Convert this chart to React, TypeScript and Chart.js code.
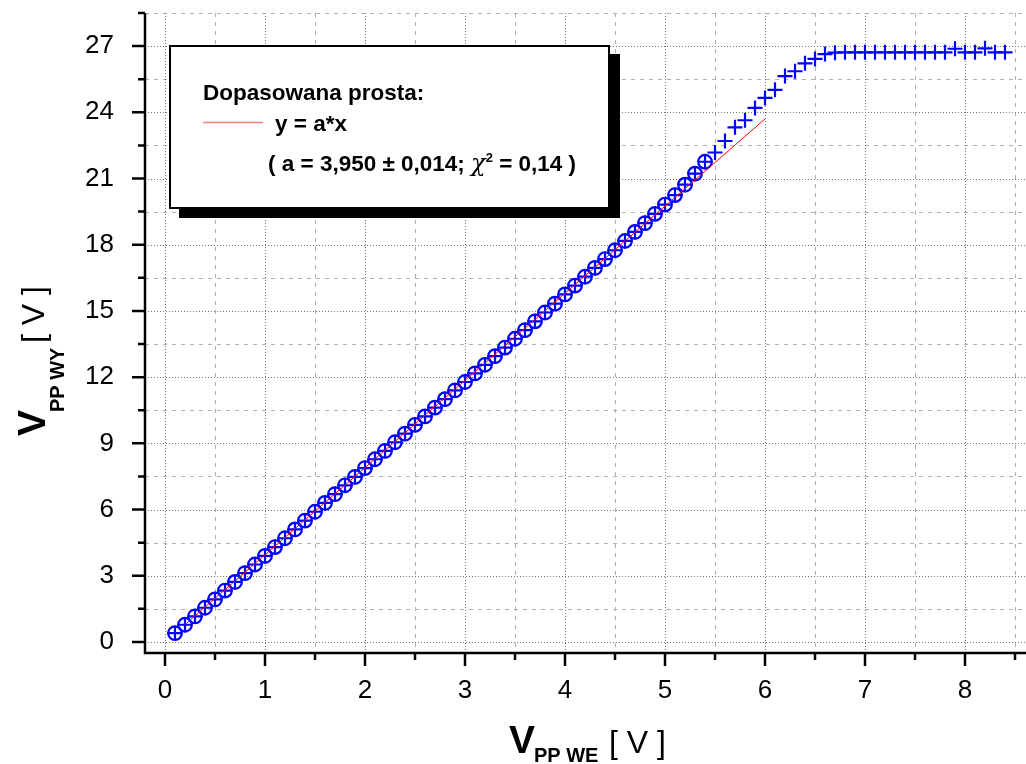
import React, { useEffect, useRef } from "react";
import { Chart, registerables } from "chart.js";

Chart.register(...registerables);

// ---- data ----
const X_VALUES = [
  0.1, 0.2, 0.3, 0.4, 0.5, 0.6, 0.7, 0.8, 0.9, 1.0,
  1.1, 1.2, 1.3, 1.4, 1.5, 1.6, 1.7, 1.8, 1.9, 2.0,
  2.1, 2.2, 2.3, 2.4, 2.5, 2.6, 2.7, 2.8, 2.9, 3.0,
  3.1, 3.2, 3.3, 3.4, 3.5, 3.6, 3.7, 3.8, 3.9, 4.0,
  4.1, 4.2, 4.3, 4.4, 4.5, 4.6, 4.7, 4.8, 4.9, 5.0,
  5.1, 5.2, 5.3, 5.4, 5.5, 5.6, 5.7, 5.8, 5.9, 6.0,
  6.1, 6.2, 6.3, 6.4, 6.5, 6.6, 6.7, 6.8, 6.9, 7.0,
  7.1, 7.2, 7.3, 7.4, 7.5, 7.6, 7.7, 7.8, 7.9, 8.0,
  8.1, 8.2, 8.3, 8.4,
];
const Y_VALUES = [
  0.40, 0.78, 1.16, 1.55, 1.93, 2.33, 2.72, 3.12, 3.51, 3.90,
  4.30, 4.70, 5.10, 5.50, 5.90, 6.30, 6.70, 7.10, 7.48, 7.88,
  8.28, 8.66, 9.05, 9.44, 9.84, 10.22, 10.62, 11.00, 11.40, 11.78,
  12.17, 12.56, 12.95, 13.34, 13.74, 14.13, 14.53, 14.93, 15.33, 15.75,
  16.15, 16.55, 16.95, 17.35, 17.75, 18.17, 18.58, 18.98, 19.40, 19.82,
  20.25, 20.72, 21.22, 21.76, 22.18, 22.70, 23.32, 23.64, 24.20, 24.65,
  25.02, 25.64, 25.86, 26.22, 26.42, 26.64, 26.70, 26.72, 26.72, 26.72,
  26.72, 26.72, 26.72, 26.72, 26.72, 26.72, 26.72, 26.72, 26.88, 26.72,
  26.72, 26.90, 26.72, 26.72,
];
// number of points used for the fit (drawn with circles)
const N_FITTED = 54;

// fitted line y = a*x, a = 3.950
const FIT_X = [0.2, 6.0];
const FIT_Y = [0.79, 23.7];

const X_TICKS = [0, 1, 2, 3, 4, 5, 6, 7, 8];
const X_MINOR = [0.5, 1.5, 2.5, 3.5, 4.5, 5.5, 6.5, 7.5, 8.5];
const Y_TICKS = [0, 3, 6, 9, 12, 15, 18, 21, 24, 27];
const Y_MINOR = [1.5, 4.5, 7.5, 10.5, 13.5, 16.5, 19.5, 22.5, 25.5, 28.5];

const LEGEND_TITLE = "Dopasowana prosta:";
const LEGEND_LABEL = "y = a*x";
const LEGEND_PARAMS_A = "( a = 3,950 \u00B1 0,014; ";
const LEGEND_CHI = "\u03C7";
const LEGEND_SUP = "2";
const LEGEND_PARAMS_B = " = 0,14 )";

const SANS = '"Liberation Sans", Arial, Helvetica, sans-serif';

const decorPlugin = {
  id: "decor",
  beforeDatasetsDraw(chart: any) {
    const { ctx, chartArea: a, scales } = chart;
    const x = scales.x;
    const y = scales.y;
    ctx.save();
    ctx.lineWidth = 1;
    // minor grid: dashed
    ctx.strokeStyle = "#b0b0b0";
    ctx.setLineDash([4, 5]);
    for (const v of X_MINOR) {
      const px = Math.round(x.getPixelForValue(v)) + 0.5;
      ctx.beginPath();
      ctx.moveTo(px, a.top);
      ctx.lineTo(px, a.bottom);
      ctx.stroke();
    }
    for (const v of Y_MINOR) {
      const py = Math.round(y.getPixelForValue(v)) + 0.5;
      ctx.beginPath();
      ctx.moveTo(a.left, py);
      ctx.lineTo(a.right, py);
      ctx.stroke();
    }
    // major grid: dotted
    ctx.strokeStyle = "#787878";
    ctx.setLineDash([1, 2]);
    for (const v of X_TICKS) {
      const px = Math.round(x.getPixelForValue(v)) + 0.5;
      ctx.beginPath();
      ctx.moveTo(px, a.top);
      ctx.lineTo(px, a.bottom);
      ctx.stroke();
    }
    for (const v of Y_TICKS) {
      const py = Math.round(y.getPixelForValue(v)) + 0.5;
      ctx.beginPath();
      ctx.moveTo(a.left, py);
      ctx.lineTo(a.right, py);
      ctx.stroke();
    }
    ctx.restore();
  },
  afterDatasetsDraw(chart: any) {
    const { ctx, chartArea: a, scales } = chart;
    const x = scales.x;
    const y = scales.y;
    ctx.save();
    ctx.setLineDash([]);
    ctx.strokeStyle = "#000";
    ctx.lineWidth = 2.5;
    // axis lines
    ctx.beginPath();
    ctx.moveTo(a.left, a.top);
    ctx.lineTo(a.left, a.bottom + 1.2);
    ctx.moveTo(a.left - 1.2, a.bottom);
    ctx.lineTo(a.right, a.bottom);
    ctx.stroke();
    // ticks
    ctx.beginPath();
    for (const v of Y_TICKS) {
      const py = y.getPixelForValue(v);
      ctx.moveTo(a.left - 13, py);
      ctx.lineTo(a.left, py);
    }
    for (const v of Y_MINOR) {
      const py = y.getPixelForValue(v);
      ctx.moveTo(a.left - 7, py);
      ctx.lineTo(a.left, py);
    }
    for (const v of X_TICKS) {
      const px = x.getPixelForValue(v);
      ctx.moveTo(px, a.bottom);
      ctx.lineTo(px, a.bottom + 13);
    }
    for (const v of X_MINOR) {
      const px = x.getPixelForValue(v);
      ctx.moveTo(px, a.bottom);
      ctx.lineTo(px, a.bottom + 7);
    }
    ctx.stroke();

    // legend box with shadow
    ctx.fillStyle = "#000";
    ctx.fillRect(179, 54, 441, 164);
    ctx.fillStyle = "#fff";
    ctx.fillRect(169, 45, 440, 163);
    ctx.lineWidth = 2;
    ctx.strokeStyle = "#000";
    ctx.strokeRect(170, 46, 439, 162);

    ctx.fillStyle = "#000";
    ctx.textAlign = "left";
    ctx.textBaseline = "alphabetic";
    ctx.font = `bold 22.5px ${SANS}`;
    ctx.fillText(LEGEND_TITLE, 203, 100);
    ctx.strokeStyle = "#f47c7c";
    ctx.lineWidth = 1.5;
    ctx.beginPath();
    ctx.moveTo(203, 122.5);
    ctx.lineTo(263, 122.5);
    ctx.stroke();
    ctx.fillText(LEGEND_LABEL, 275, 131);
    let cx = 268;
    ctx.fillText(LEGEND_PARAMS_A, cx, 171);
    cx += ctx.measureText(LEGEND_PARAMS_A).width;
    ctx.font = `italic 24px "DejaVu Serif", serif`;
    ctx.fillText(LEGEND_CHI, cx, 171);
    cx += ctx.measureText(LEGEND_CHI).width;
    ctx.font = `bold 13px ${SANS}`;
    ctx.fillText(LEGEND_SUP, cx, 162);
    cx += ctx.measureText(LEGEND_SUP).width;
    ctx.font = `bold 22.5px ${SANS}`;
    ctx.fillText(LEGEND_PARAMS_B, cx, 171);

    // x axis title
    ctx.fillStyle = "#000";
    ctx.font = `bold 39px ${SANS}`;
    ctx.fillText("V", 509, 753);
    ctx.font = `bold 20px ${SANS}`;
    ctx.fillText("PP WE", 534, 762);
    ctx.font = `32px ${SANS}`;
    ctx.fillText("[ V ]", 609, 753);

    // y axis title
    ctx.save();
    ctx.translate(45, 436);
    ctx.rotate(-Math.PI / 2);
    ctx.font = `bold 39px ${SANS}`;
    ctx.fillText("V", 0, 0);
    ctx.font = `bold 20px ${SANS}`;
    ctx.fillText("PP WY", 24, 19);
    ctx.font = `32px ${SANS}`;
    ctx.fillText("[ V ]", 93, -1);
    ctx.restore();

    ctx.restore();
  },
};

export default function App() {
  const ref = useRef<HTMLCanvasElement | null>(null);

  useEffect(() => {
    if (!ref.current) return;
    const pts = X_VALUES.map((v, i) => ({ x: v, y: Y_VALUES[i] }));
    const fitted = pts.slice(0, N_FITTED);
    const fitLine = FIT_X.map((v, i) => ({ x: v, y: FIT_Y[i] }));

    const chart = new Chart(ref.current, {
      type: "scatter",
      data: {
        datasets: [
          {
            label: "fit",
            data: fitLine,
            showLine: true,
            borderColor: "#ff0000",
            borderWidth: 1,
            pointRadius: 0,
            order: 0,
          } as any,
          {
            label: "circles",
            data: fitted,
            pointStyle: "circle",
            pointRadius: 6.8,
            borderWidth: 2.2,
            borderColor: "#0000ff",
            backgroundColor: "rgba(0,0,0,0)",
            order: 1,
          },
          {
            label: "crosses",
            data: pts,
            pointStyle: "cross",
            pointRadius: 7.5,
            borderWidth: 2.2,
            borderColor: "#0000ff",
            backgroundColor: "#0000ff",
            order: 2,
          },
        ],
      },
      options: {
        animation: false,
        responsive: false,
        devicePixelRatio: 1,
        layout: {
          autoPadding: false,
          padding: { top: 13, left: 0, right: 0, bottom: 0 },
        },
        plugins: {
          legend: { display: false },
          tooltip: { enabled: false },
        },
        scales: {
          x: {
            type: "linear",
            min: -0.2,
            max: 8.61,
            grid: { display: false },
            border: { display: false },
            ticks: {
              color: "#000",
              font: { family: SANS, size: 26 },
              padding: 14,
              autoSkip: false,
              maxRotation: 0,
              callback: (v: any) => String(v),
            },
            afterBuildTicks: (s: any) => {
              s.ticks = X_TICKS.map((value) => ({ value }));
            },
            afterFit: (s: any) => {
              s.height = 111;
              s.paddingLeft = 0;
              s.paddingRight = 0;
              s.paddingTop = 0;
              s.paddingBottom = 0;
            },
          },
          y: {
            type: "linear",
            min: -0.5,
            max: 28.5,
            grid: { display: false },
            border: { display: false },
            ticks: {
              color: "#000",
              font: { family: SANS, size: 26 },
              padding: 23,
              autoSkip: false,
              callback: (v: any) => String(v),
            },
            afterBuildTicks: (s: any) => {
              s.ticks = Y_TICKS.map((value) => ({ value }));
            },
            afterFit: (s: any) => {
              s.width = 145;
              s.paddingLeft = 0;
              s.paddingRight = 0;
              s.paddingTop = 0;
              s.paddingBottom = 0;
            },
          },
        },
      },
      plugins: [decorPlugin],
    });
    return () => chart.destroy();
  }, []);

  return (
    <div
      style={{
        position: "fixed",
        left: 0,
        top: 0,
        width: 1026,
        height: 764,
        background: "#fff",
      }}
    >
      <canvas ref={ref} width={1026} height={764} style={{ display: "block" }} />
    </div>
  );
}
